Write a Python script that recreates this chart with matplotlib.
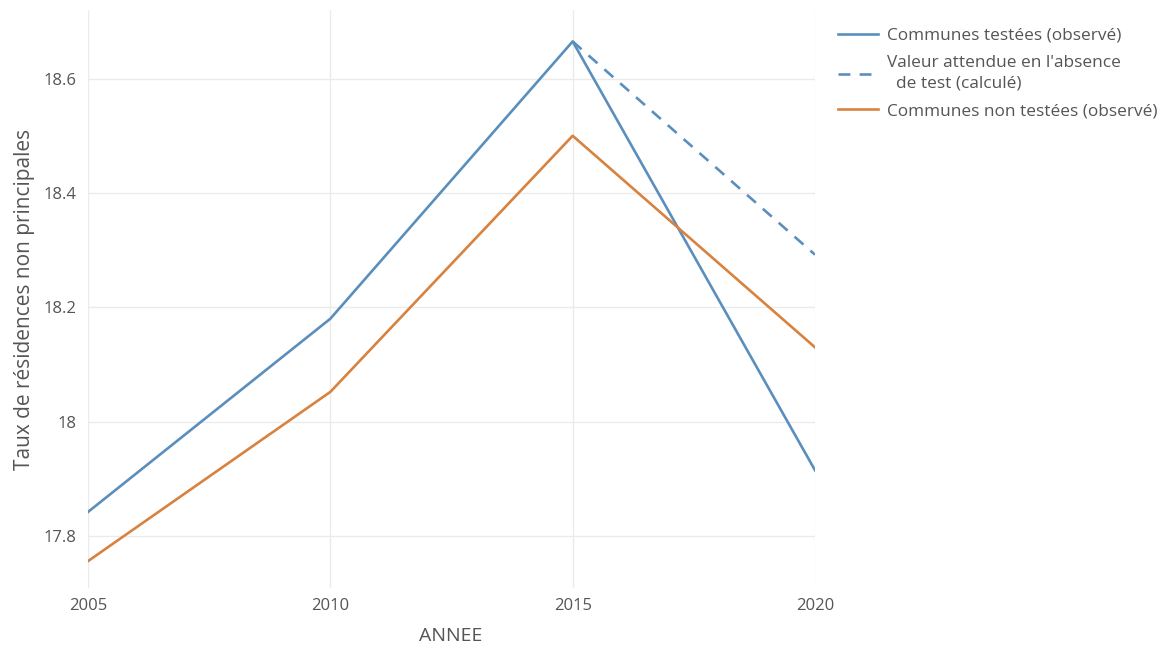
import matplotlib
matplotlib.use("Agg")
import matplotlib.pyplot as plt
from matplotlib.ticker import FuncFormatter

years = [2005, 2010, 2015, 2020]
testees = [17.842, 18.180, 18.665, 17.915]
non_testees = [17.756, 18.052, 18.500, 18.130]
attendu_years = [2015, 2020]
attendu = [18.665, 18.292]
yticks = [17.8, 18.0, 18.2, 18.4, 18.6]

labels = ["Communes testées (observé)",
          "Valeur attendue en l'absence\n  de test (calculé)",
          "Communes non testées (observé)"]

blue = "#5A8FBD"
orange = "#D8823F"
txt = "#555555"

plt.rcParams['font.family'] = ['Open Sans', 'DejaVu Sans']

fig = plt.figure(figsize=(11.67, 6.46), dpi=100)
W, H = 1167, 646
ax = fig.add_axes([88 / W, 1 - 588 / H, (815 - 88) / W, (588 - 10) / H])

l1, = ax.plot(years, testees, color=blue, lw=1.9, solid_joinstyle='round', zorder=3)
l2, = ax.plot(attendu_years, attendu, color=blue, lw=1.9, linestyle=(0, (4.5, 3.5)), zorder=3)
l3, = ax.plot(years, non_testees, color=orange, lw=1.9, solid_joinstyle='round', zorder=3)

ax.set_xlim(2005, 2020)
ax.set_ylim(17.709, 18.72)
ax.set_xticks(years)
ax.set_yticks(yticks)
ax.yaxis.set_major_formatter(FuncFormatter(lambda v, p: f"{v:g}"))
ax.grid(True, color="#EBEBEB", lw=1)
ax.set_axisbelow(True)
for s in ax.spines.values():
    s.set_visible(False)
ax.tick_params(length=0, labelsize=12, labelcolor=txt)
ax.tick_params(axis='x', pad=7)
ax.tick_params(axis='y', pad=8)

fig.text(451 / W, 1 - 636 / H, "ANNEE", ha='center', va='center', fontsize=14, color=txt)
fig.text(25 / W, 1 - 299 / H, "Taux de résidences non principales", rotation=90,
         ha='center', va='center', fontsize=15, color=txt)

leg = fig.legend([l1, l2, l3], labels, loc='upper left',
                 bbox_to_anchor=(831 / W, 1 - 21 / H), frameon=False,
                 fontsize=12.4, labelcolor=txt, handlelength=2.3, handletextpad=0.55,
                 labelspacing=0.65, borderaxespad=0)
for t in leg.get_texts():
    t.set_linespacing(1.4)

fig.savefig("out.png", dpi=100)
